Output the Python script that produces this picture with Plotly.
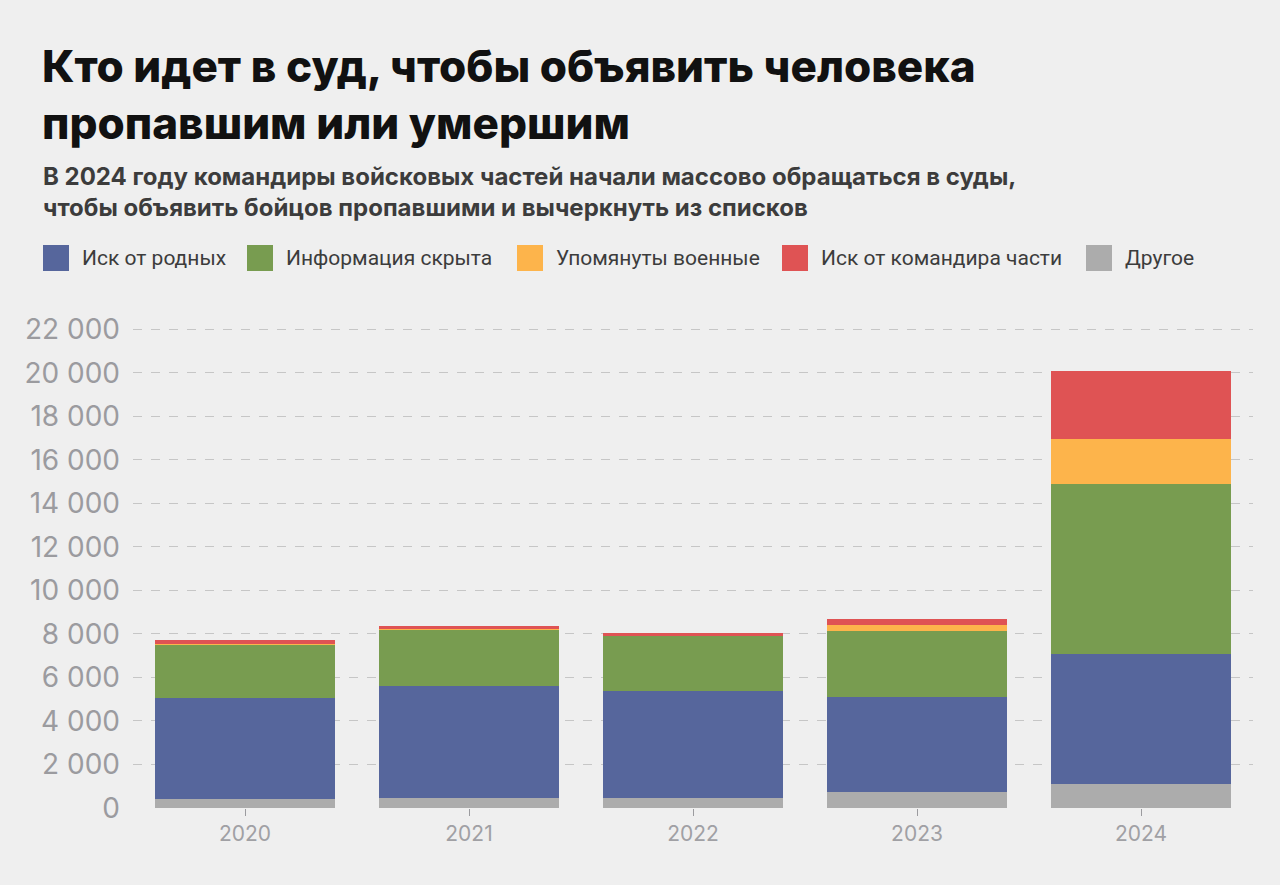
import plotly.graph_objects as go

years = ["2020", "2021", "2022", "2023", "2024"]
series_names = ["Другое", "Иск от родных", "Информация скрыта", "Упомянуты военные", "Иск от командира части"]
other = [430, 460, 460, 735, 1120]
relatives = [4630, 5160, 4900, 4390, 5970]
hidden = [2450, 2600, 2570, 2990, 7810]
military = [50, 20, 20, 310, 2070]
commander = [150, 130, 90, 260, 3100]
colors = ["#acacac", "#56669c", "#789c50", "#fdb44b", "#df5354"]
y_ticks = list(range(0, 22001, 2000))
y_tick_labels = [f"{v:,}".replace(",", " ") for v in y_ticks]

legend_order = ["Иск от родных", "Информация скрыта", "Упомянуты военные", "Иск от командира части", "Другое"]

BG = "#efefef"
W, H = 1280, 885
L, R, T, B = 133, 27, 325, 77
PW, PH = W - L - R, H - T - B


def px(x):
    return (x - L) / PW


def py(y):
    return (H - B - y) / PH


fig = go.Figure()
for name, vals, col in zip(series_names, [other, relatives, hidden, military, commander], colors):
    fig.add_trace(go.Bar(x=years, y=vals, name=name, marker=dict(color=col, line=dict(width=0)),
                         showlegend=False))

fig.update_layout(
    barmode="stack",
    bargap=0.2,
    width=W, height=H,
    paper_bgcolor=BG, plot_bgcolor=BG,
    margin=dict(l=L, r=R, t=T, b=B),
    font=dict(family="Inter", color="#9b9b9f"),
    xaxis=dict(showgrid=False, showline=False, ticks="outside", ticklen=7, tickcolor="#9b9b9f",
               tickwidth=1, tickfont=dict(family="Inter", size=21, color="#a0a0a4"), zeroline=False),
    yaxis=dict(range=[0, 22200], tickvals=y_ticks, ticktext=y_tick_labels, showgrid=True,
               gridcolor="#c6c6c6", griddash="dash", gridwidth=1, zeroline=False,
               tickfont=dict(family="Inter", size=28, color="#9b9b9f"), ticks="", ticklabelstandoff=12),
)

# Title and subtitle
fig.add_annotation(xref="paper", yref="paper", x=px(40), y=py(37), xanchor="left", yanchor="top",
                   align="left", showarrow=False,
                   text="Кто идет в суд, чтобы объявить человека<br>пропавшим или умершим",
                   font=dict(family="Inter", size=44, color="#111111", weight=800))
fig.add_annotation(xref="paper", yref="paper", x=px(41), y=py(160), xanchor="left", yanchor="top",
                   align="left", showarrow=False,
                   text="В 2024 году командиры войсковых частей начали массово обращаться в суды,<br>чтобы объявить бойцов пропавшими и вычеркнуть из списков",
                   font=dict(family="Inter", size=24, color="#3c3c3c", weight=700))

# Legend
leg_x = [43, 247, 517, 782, 1086]
for name, lx in zip(legend_order, leg_x):
    col = colors[series_names.index(name)]
    fig.add_shape(type="rect", xref="paper", yref="paper",
                  x0=px(lx), x1=px(lx + 26), y0=py(271), y1=py(245),
                  fillcolor=col, line=dict(width=0))
    fig.add_annotation(xref="paper", yref="paper", x=px(lx + 37), y=py(258),
                       xanchor="left", yanchor="middle", showarrow=False, text=name,
                       font=dict(family="Roboto", size=21, color="#3c3c3c"))

fig.write_html("out.html", config={"displayModeBar": False},
               post_script="document.body.style.margin='0';document.body.style.background='#efefef';")
